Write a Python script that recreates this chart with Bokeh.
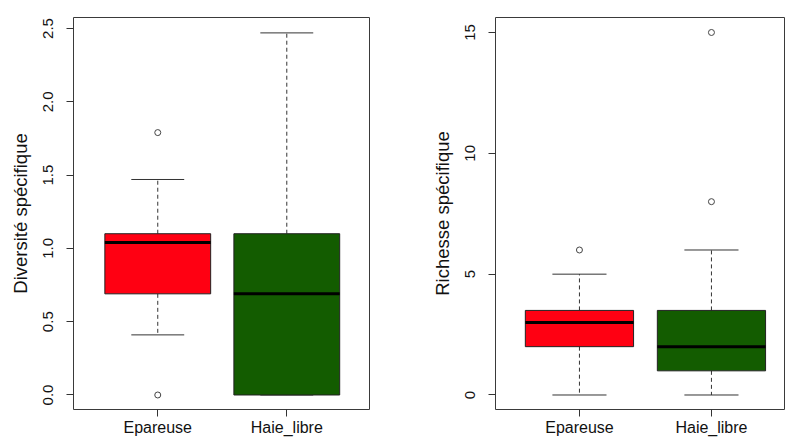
from bokeh.plotting import figure
from bokeh.layouts import row
from bokeh.models import ColumnDataSource, FixedTicker
from bokeh.embed import file_html
from bokeh.resources import INLINE

# ---- data ----
categories = ["Epareuse", "Haie_libre"]
xpos = [1, 2]

div_lower = [0.41, 0.0]
div_q1 = [0.69, 0.0]
div_med = [1.04, 0.69]
div_q3 = [1.10, 1.10]
div_upper = [1.47, 2.47]
div_out_x = [1, 1]
div_out_y = [1.79, 0.0]
div_ticks = [0.0, 0.5, 1.0, 1.5, 2.0, 2.5]
div_tick_labels = ["0.0", "0.5", "1.0", "1.5", "2.0", "2.5"]

ric_lower = [0, 0]
ric_q1 = [2, 1]
ric_med = [3, 2]
ric_q3 = [3.5, 3.5]
ric_upper = [5, 6]
ric_out_x = [1, 2, 2]
ric_out_y = [6, 8, 15]
ric_ticks = [0, 5, 10, 15]
ric_tick_labels = ["0", "5", "10", "15"]

colors = ["#FF0012", "#135C00"]

FONT = "Liberation Sans"
BOXW = 0.82


def make_panel(lower, q1, med, q3, upper, ox, oy, ticks, tick_labels, title,
               xr, yr, width, mb_left, mb_right):
    p = figure(width=width, height=438, x_range=xr, y_range=yr,
               output_backend="svg", toolbar_location=None,
               min_border_left=mb_left, min_border_right=mb_right,
               min_border_top=17, min_border_bottom=29)
    p.grid.visible = False
    p.outline_line_color = "#3a3a3a"
    p.outline_line_width = 1
    p.background_fill_color = "white"
    p.border_fill_color = "white"

    src = ColumnDataSource(dict(x=xpos, lower=lower, q1=q1, med=med, q3=q3,
                                upper=upper, color=colors,
                                xl=[v - BOXW / 2 for v in xpos],
                                xr=[v + BOXW / 2 for v in xpos],
                                cl=[v - BOXW / 4 for v in xpos],
                                cr=[v + BOXW / 4 for v in xpos]))
    # whiskers
    p.segment(x0="x", y0="q3", x1="x", y1="upper", source=src,
              line_color="#333333", line_width=1, line_dash="4 3")
    p.segment(x0="x", y0="q1", x1="x", y1="lower", source=src,
              line_color="#333333", line_width=1, line_dash="4 3")
    # caps
    p.segment(x0="cl", y0="upper", x1="cr", y1="upper", source=src,
              line_color="#333333", line_width=1)
    p.segment(x0="cl", y0="lower", x1="cr", y1="lower", source=src,
              line_color="#333333", line_width=1)
    # boxes
    p.vbar(x="x", width=BOXW, bottom="q1", top="q3", source=src,
           fill_color="color", line_color="#222222", line_width=1)
    # medians
    p.segment(x0="xl", y0="med", x1="xr", y1="med", source=src,
              line_color="black", line_width=3)
    # outliers
    p.scatter(x=ox, y=oy, marker="circle", size=6, fill_color=None,
              line_color="#444444", line_width=1)

    # axes
    p.xaxis.ticker = FixedTicker(ticks=xpos)
    p.xaxis.major_label_overrides = {x: c for x, c in zip(xpos, categories)}
    p.yaxis.ticker = FixedTicker(ticks=ticks)
    p.yaxis.major_label_overrides = {t: l for t, l in zip(ticks, tick_labels)}
    for ax in (p.xaxis[0], p.yaxis[0]):
        ax.axis_line_color = None
        ax.major_tick_out = 7
        ax.major_tick_in = 0
        ax.major_tick_line_color = "#333333"
        ax.minor_tick_line_color = None
        ax.major_label_text_font = FONT
        ax.major_label_text_color = "#111111"
    p.xaxis.major_label_text_font_size = "16px"
    p.xaxis.major_label_standoff = 2
    p.yaxis.major_label_text_font_size = "15px"
    p.yaxis.major_label_orientation = "vertical"
    p.yaxis.major_label_standoff = 13
    p.yaxis.axis_label = title
    p.yaxis.axis_label_text_font = FONT
    p.yaxis.axis_label_text_font_size = "18.5px"
    p.yaxis.axis_label_text_font_style = "normal"
    p.yaxis.axis_label_text_color = "#111111"
    p.yaxis.axis_label_standoff = 10
    return p


p1 = make_panel(div_lower, div_q1, div_med, div_q3, div_upper, div_out_x, div_out_y,
                div_ticks, div_tick_labels, "Diversité spécifique",
                (0.347, 2.641), (-0.099, 2.575), 400, 73, 31)
p2 = make_panel(ric_lower, ric_q1, ric_med, ric_q3, ric_upper, ric_out_x, ric_out_y,
                ric_ticks, ric_tick_labels, "Richesse spécifique",
                (0.364, 2.561), (-0.6, 15.62), 385, 95, 0)

layout = row(p1, p2)
open("out.html", "w").write(file_html(layout, INLINE))
